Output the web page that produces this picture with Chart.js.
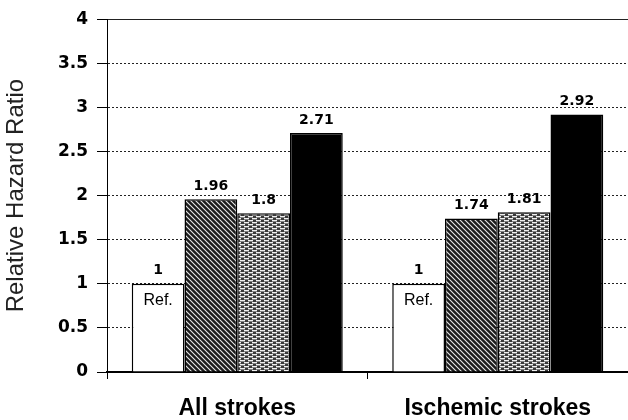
<!DOCTYPE html>
<html>
<head>
<meta charset="utf-8">
<script src="https://cdn.jsdelivr.net/npm/chart.js@4/dist/chart.umd.min.js"></script>
<style>
html,body{margin:0;padding:0;background:#fff;}
#wrap{width:628px;height:420px;}
</style>
</head>
<body>
<div id="wrap"><canvas id="c" width="628" height="420"></canvas></div>
<script>
const categories = ['All strokes', 'Ischemic strokes'];
const seriesNames = ['Reference', 'Group 2', 'Group 3', 'Group 4'];
const refValues = [1, 1];
const group2Values = [1.96, 1.74];
const group3Values = [1.8, 1.81];
const group4Values = [2.71, 2.92];
const refLabel = 'Ref.';
const yTickValues = [0, 0.5, 1, 1.5, 2, 2.5, 3, 3.5, 4];
const yTitle = 'Relative Hazard Ratio';

function makePattern(kind) {
  const c = document.createElement('canvas');
  const ctx = c.getContext('2d');
  if (kind === 'hatch') {
    c.width = 5; c.height = 5;
    ctx.fillStyle = '#1a1a1a';
    ctx.fillRect(0, 0, 5, 5);
    ctx.strokeStyle = '#e8e8e8';
    ctx.lineWidth = 1.1;
    ctx.beginPath();
    ctx.moveTo(-1, -1); ctx.lineTo(6, 6);
    ctx.moveTo(-1, 4); ctx.lineTo(1, 6);
    ctx.moveTo(4, -1); ctx.lineTo(6, 1);
    ctx.stroke();
  } else {
    c.width = 8; c.height = 4;
    ctx.fillStyle = '#383838';
    ctx.fillRect(0, 0, 8, 4);
    ctx.fillStyle = '#f0f0f0';
    ctx.fillRect(0, 0, 5, 1.4);
    ctx.fillRect(4, 2, 5, 1.4);
    ctx.fillRect(-4, 2, 5, 1.4);
  }
  return document.getElementById('c').getContext('2d').createPattern(c, 'repeat');
}

const valueLabels = {
  id: 'valueLabels',
  afterDatasetsDraw(chart) {
    const ctx = chart.ctx;
    ctx.save();
    ctx.fillStyle = '#000';
    ctx.textAlign = 'center';
    chart.data.datasets.forEach((ds, i) => {
      const meta = chart.getDatasetMeta(i);
      meta.data.forEach((el, j) => {
        ctx.font = 'bold 14px "DejaVu Sans"';
        ctx.textBaseline = 'bottom';
        ctx.fillText(String(ds.data[j]), el.x, el.y - 6);
        if (i === 0) {
          ctx.font = '16px "Liberation Sans"';
          ctx.textBaseline = 'middle';
          ctx.fillText(refLabel, el.x, el.y + 17);
        }
      });
    });
    ctx.restore();
  }
};

const ctx = document.getElementById('c').getContext('2d');
new Chart(ctx, {
  type: 'bar',
  data: {
    labels: categories,
    datasets: [
      { label: seriesNames[0], data: refValues, backgroundColor: '#ffffff' },
      { label: seriesNames[1], data: group2Values, backgroundColor: makePattern('hatch') },
      { label: seriesNames[2], data: group3Values, backgroundColor: makePattern('dots') },
      { label: seriesNames[3], data: group4Values, backgroundColor: '#000000' }
    ]
  },
  options: {
    responsive: false,
    animation: false,
    devicePixelRatio: 1,
    layout: { padding: { top: 18, right: 0, left: 0, bottom: 0 } },
    datasets: {
      bar: {
        borderColor: '#000',
        borderWidth: 1.5,
        categoryPercentage: 0.81,
        barPercentage: 1.0
      }
    },
    plugins: {
      legend: { display: false },
      tooltip: { enabled: false }
    },
    scales: {
      x: {
        grid: {
          display: true,
          drawOnChartArea: false,
          drawTicks: true,
          tickLength: 7,
          tickColor: '#000',
          offset: true
        },
        border: { display: true, color: '#000', width: 2 },
        ticks: {
          color: '#000',
          font: { family: '"Liberation Sans", Arial, sans-serif', size: 23, weight: 'bold' },
          padding: 16
        },
        afterFit(scale) { scale.height = 48; }
      },
      y: {
        min: 0,
        max: 4,
        afterBuildTicks(scale) { scale.ticks = yTickValues.map(v => ({ value: v })); },
        ticks: {
          color: '#000',
          font: { family: '"DejaVu Sans", sans-serif', size: 17, weight: 'bold' },
          padding: 9,
          callback: v => String(v)
        },
        grid: {
          color: '#222',
          lineWidth: 1,
          tickLength: 10,
          tickColor: '#000',
          tickBorderDash: []
        },
        border: {
          display: true,
          color: '#000',
          width: 1,
          dash: c => (c.tick && c.tick.value !== 4 && c.tick.value !== 0) ? [2, 2] : []
        },
        title: {
          display: true,
          text: yTitle,
          color: '#222',
          font: { family: '"Liberation Sans", Arial, sans-serif', size: 24, weight: 'normal' },
          padding: { top: 2, bottom: 0 }
        },
        afterFit(scale) { scale.width = 107; }
      }
    }
  },
  plugins: [valueLabels]
});
</script>
</body>
</html>
